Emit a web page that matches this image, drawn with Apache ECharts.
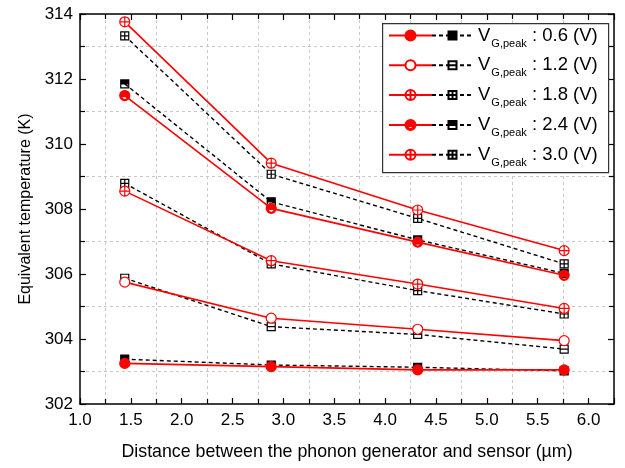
<!DOCTYPE html>
<html>
<head>
<meta charset="utf-8">
<script src="https://cdn.jsdelivr.net/npm/echarts@6/dist/echarts.min.js"></script>
<style>
html, body { margin: 0; padding: 0; background: #fff; }
#chart { width: 625px; height: 468px; }
</style>
</head>
<body>
<div id="chart"></div>
<script>
var distances = [1.44, 2.88, 4.32, 5.76];
var voltages = ['0.6', '1.2', '1.8', '2.4', '3.0'];

// red solid curves
var red06 = [303.25, 303.15, 303.05, 303.05];
var red12 = [305.75, 304.64, 304.30, 303.95];
var red18 = [308.55, 306.41, 305.69, 304.94];
var red24 = [311.49, 308.02, 306.98, 305.96];
var red30 = [313.76, 309.41, 307.97, 306.72];

// black dashed curves
var blk06 = [303.38, 303.20, 303.13, 303.02];
var blk12 = [305.87, 304.38, 304.14, 303.69];
var blk18 = [308.79, 306.31, 305.49, 304.77];
var blk24 = [311.85, 308.22, 307.05, 306.02];
var blk30 = [313.33, 309.07, 307.71, 306.31];

var xRange = [1.0, 6.25];
var yRange = [302, 314];

var chartDom = document.getElementById('chart');
var myChart = echarts.init(chartDom);
var font = 'Liberation Sans, Arial, sans-serif';

var circleCross = 'path://M0,-10A10,10,0,1,1,0,10A10,10,0,1,1,0,-10ZM-10,0L10,0M0,-10L0,10';
var circleHalf = 'path://M0,-10A10,10,0,1,1,0,10A10,10,0,1,1,0,-10ZM-6,2A6,6,0,0,0,6,2Z';
var squareBar = 'path://M-10,-10L10,-10L10,10L-10,10ZM-10,0L10,0';
var squareCross = 'path://M-10,-10L10,-10L10,10L-10,10ZM-10,0L10,0M0,-10L0,10';
var squareHalf = 'path://M-10,-10L10,-10L10,10L-10,10ZM-10,0L-10,10L10,10L10,0Z';

function pairs(vals) {
  return distances.map(function (x, i) { return [x, vals[i]]; });
}

function redSeries(v, vals, symbol, fill) {
  return {
    name: 'r' + v, type: 'line', data: pairs(vals), symbol: symbol, symbolSize: 10, z: 3,
    lineStyle: { color: '#ff0000', width: 1.6 },
    itemStyle: { color: fill, borderColor: '#ff0000', borderWidth: 1.2 }
  };
}

function blkSeries(v, vals, symbol, fill) {
  return {
    name: 'b' + v, type: 'line', data: pairs(vals), symbol: symbol, symbolSize: 8, z: 2,
    lineStyle: { color: '#000', width: 1.4, type: [4, 3] },
    itemStyle: { color: fill, borderColor: '#000', borderWidth: 1.2 }
  };
}

function legendText(name) {
  return '{v|V}{s|G,peak}{t| : ' + name.slice(1) + ' (V)}';
}

function richFor(color) {
  return {
    v: { fontSize: 18.5, lineHeight: 20, color: color, fontFamily: font },
    s: { fontSize: 11, lineHeight: 12, padding: [16, 0, 0, 1], color: color, fontFamily: font },
    t: { fontSize: 18.5, lineHeight: 20, color: color, fontFamily: font }
  };
}

function axisCommon(extra) {
  var a = {
    type: 'value',
    axisLine: { show: true, lineStyle: { color: '#000', width: 1.5 } },
    axisTick: { show: true, inside: true, length: 6, lineStyle: { color: '#000', width: 1.2 } },
    minorTick: { show: true, splitNumber: 2, length: 5, lineStyle: { color: '#000', width: 1.2 } },
    splitLine: { show: false }
  };
  for (var k in extra) a[k] = extra[k];
  return a;
}

var gridDash = { show: true, lineStyle: { color: '#c8c8c8', type: [3, 3], width: 1 } };

option = {
  animation: false,
  textStyle: { fontFamily: font },
  grid: { left: 80, right: 11, top: 14, bottom: 64, containLabel: false, outerBoundsMode: 'none' },
  xAxis: [
    axisCommon({
      min: xRange[0], max: xRange[1], interval: 0.5,
      name: 'Distance between the phonon generator and sensor (\u00b5m)',
      nameLocation: 'middle', nameGap: 39,
      nameTextStyle: { fontSize: 17.8, color: '#000', fontFamily: font },
      axisLabel: {
        fontSize: 17, color: '#000', margin: 8, fontFamily: font,
        formatter: function (v) { return Math.abs(v * 2 - Math.round(v * 2)) > 1e-6 ? '' : v.toFixed(1); }
      },
      minorSplitLine: gridDash
    }),
    axisCommon({
      position: 'top', min: xRange[0], max: xRange[1], interval: 0.5,
      axisLabel: { show: false }
    })
  ],
  yAxis: [
    axisCommon({
      min: yRange[0], max: yRange[1], interval: 2,
      name: 'Equivalent temperature (K)',
      nameLocation: 'middle', nameGap: 46,
      nameTextStyle: { fontSize: 16, color: '#000', fontFamily: font },
      axisLabel: { fontSize: 17, color: '#000', margin: 7, fontFamily: font },
      minorSplitLine: gridDash
    }),
    axisCommon({
      position: 'right', min: yRange[0], max: yRange[1], interval: 2,
      axisLabel: { show: false }
    })
  ],
  legend: [
    {
      data: voltages.map(function (v) { return 'r' + v; }),
      left: 388, top: 22, orient: 'vertical', padding: 0,
      itemWidth: 43, itemHeight: 12.5, itemGap: 2.8, selectedMode: false, z: 5,
      formatter: legendText,
      textStyle: { rich: richFor('rgba(0,0,0,0)') }
    },
    {
      data: voltages.map(function (v) { return 'b' + v; }),
      left: 431, top: 22, orient: 'vertical', padding: 0,
      itemWidth: 41, itemHeight: 10, itemGap: 2.8, selectedMode: false, z: 6,
      formatter: legendText,
      textStyle: { rich: richFor('#000') }
    }
  ],
  graphic: [
    {
      type: 'rect', left: 382, top: 23, z: 4,
      shape: { width: 226, height: 149 },
      style: { fill: '#fff', stroke: '#333', lineWidth: 1.2 }
    }
  ],
  series: [
    blkSeries('0.6', blk06, 'rect', '#000'),
    blkSeries('1.2', blk12, squareBar, '#fff'),
    blkSeries('1.8', blk18, squareCross, '#fff'),
    blkSeries('2.4', blk24, squareHalf, '#000'),
    blkSeries('3.0', blk30, squareCross, '#fff'),
    redSeries('0.6', red06, 'circle', '#ff0000'),
    redSeries('1.2', red12, 'circle', '#fff'),
    redSeries('1.8', red18, circleCross, '#fff'),
    redSeries('2.4', red24, circleHalf, '#ff0000'),
    redSeries('3.0', red30, circleCross, '#fff')
  ]
};

option && myChart.setOption(option);
window.onresize = function () {
  myChart.resize();
};
</script>
</body>
</html>
